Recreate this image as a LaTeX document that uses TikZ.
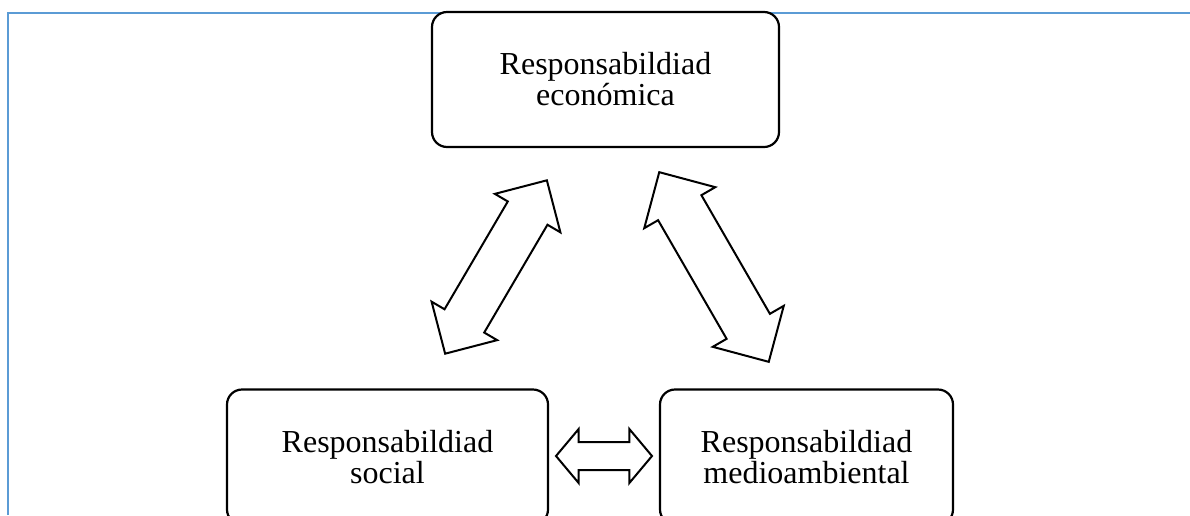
\documentclass[tikz,border=0pt]{standalone}
\usepackage{fontspec}
\setmainfont{Liberation Serif}
\usetikzlibrary{shapes.arrows}

\definecolor{framecol}{HTML}{5B9BD5}

\tikzset{
  resp/.style={draw, line width=2.2pt, rounded corners=15pt, fill=white,
    align=center, minimum height=135pt, font=\fontsize{32}{31}\selectfont},
  dblarrow/.style={double arrow, draw, line width=2pt, fill=white,
    inner xsep=0pt, double arrow tip angle=90}
}

\begin{document}
\begin{tikzpicture}[x=1pt,y=-1pt]
  \useasboundingbox (0,0) rectangle (1190,515);
  \clip (0,0) rectangle (1190,515);
  \draw[framecol, line width=2pt] (8,515) -- (8,12.7) -- (1190,12.7);

  \node[resp, minimum width=347pt] (R1) at (605.5,79.5) {Responsabildiad\\económica};
  \node[resp, minimum width=321pt] (R2) at (387.5,457) {Responsabildiad\\social};
  \node[resp, minimum width=293pt] (R3) at (806.5,457) {Responsabildiad\\medioambiental};

  \node[dblarrow, rotate=59.6, minimum height=201pt, inner ysep=22pt,
    double arrow head extend=15pt] (A12) at (496,267) {};
  \node[dblarrow, rotate=120, minimum height=219pt, inner ysep=24pt,
    double arrow head extend=16pt] (A13) at (714,267) {};
  \node[dblarrow, minimum height=96pt, inner ysep=13pt,
    double arrow head extend=13pt, double arrow tip angle=100] (A23) at (604,456) {};
\end{tikzpicture}
\end{document}
